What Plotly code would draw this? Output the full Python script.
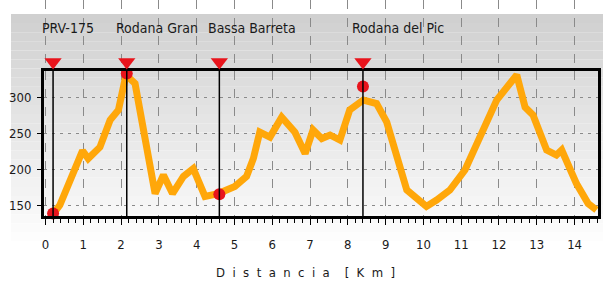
import plotly.graph_objects as go

# Elevation profile (km, m)
distance_km = [0.21, 0.38, 0.98, 1.13, 1.44, 1.71, 1.93, 2.13, 2.37, 2.90, 3.12, 3.36,
               3.65, 3.91, 4.22, 4.57, 5.01, 5.32, 5.50, 5.67, 5.94, 6.25, 6.60, 6.87,
               7.08, 7.31, 7.53, 7.79, 8.05, 8.41, 8.76, 9.03, 9.56, 9.82, 10.08, 10.35,
               10.70, 11.10, 11.53, 11.94, 12.47, 12.69, 12.90, 13.26, 13.52, 13.66,
               14.05, 14.36, 14.58]
elevation_m = [138, 150, 226, 215, 231, 269, 283, 332, 320, 166, 192, 166,
               190, 201, 162, 166, 176, 190, 215, 252, 245, 273, 252, 222,
               255, 243, 248, 241, 283, 297, 292, 266, 171, 159, 148, 157,
               171, 199, 250, 297, 332, 287, 276, 227, 220, 227,
               180, 152, 143]

# Waypoints
waypoint_names = ["PRV-175", "Rodana Gran", "Bassa Barreta", "Rodana del Pic"]
waypoint_km = [0.2, 2.15, 4.6, 8.4]
waypoint_elev = [138, 334, 165, 316]

x_ticks = list(range(0, 15))
y_ticks = [150, 200, 250, 300]

X_RANGE = [-0.04, 14.62]
Y_RANGE = [134.6, 337.6]

FONT = "DejaVu Sans Condensed, Liberation Sans Narrow, Arial Narrow, sans-serif"

H_IN = 216.0            # drawable height (px) above bottom margin
PLOT_TOP = 145.0 / H_IN  # plot domain top (paper)


def py(px):
    """pixel row -> paper y"""
    return (H_IN - px) / H_IN


fig = go.Figure()

# vertical waypoint lines
for k in waypoint_km:
    fig.add_shape(type="line", xref="x", yref="paper", x0=k, x1=k, y0=0, y1=PLOT_TOP,
                  line=dict(color="black", width=1.5), layer="above")

fig.add_trace(go.Scatter(x=distance_km, y=elevation_m, mode="lines",
                         line=dict(color="#FFA70A", width=7), hoverinfo="skip"))

fig.add_trace(go.Scatter(x=waypoint_km, y=waypoint_elev, mode="markers",
                         marker=dict(symbol="circle", size=12, color="#E8141C",
                                     line=dict(width=0)), cliponaxis=False,
                         hoverinfo="skip"))

# triangles in the header band (yaxis2)
tri_y = (py(62) - PLOT_TOP) / (1 - PLOT_TOP)
fig.add_trace(go.Scatter(x=waypoint_km, y=[tri_y] * len(waypoint_km), mode="markers",
                         yaxis="y2",
                         marker=dict(symbol="triangle-down", size=15, color="#E8141C",
                                     line=dict(width=0)), cliponaxis=False,
                         hoverinfo="skip"))

for name, k in zip(waypoint_names, waypoint_km):
    fig.add_annotation(x=k, y=py(28), xref="x", yref="paper", text=name, showarrow=False,
                       xanchor="left", yanchor="middle", xshift=-13,
                       font=dict(family=FONT, size=14, color="#1a1a1a"))

sp = "\u00a0\u00a0"
title = sp.join("Distancia") + "\u00a0\u00a0\u00a0\u00a0" + sp.join("[Km]")
fig.add_annotation(x=(305 - 44) / 554.0, y=py(272), xref="paper", yref="paper", text=title,
                   showarrow=False, xanchor="center", yanchor="middle",
                   font=dict(family=FONT, size=13, color="#1a1a1a"))

# gradient background (paper)
n = 30
top_px, bot_px = 14, 287
for i in range(n):
    p0 = top_px + (bot_px - top_px) * i / n
    p1 = top_px + (bot_px - top_px) * (i + 1) / n
    t = i / (n - 1)
    g = int(round(208 + (255 - 208) * min(1.0, t * 1.15)))
    fig.add_shape(type="rect", xref="paper", yref="paper",
                  x0=(11 - 44) / 554.0, x1=(603 - 44) / 554.0,
                  y0=py(p1), y1=py(p0),
                  fillcolor=f"rgb({g},{g},{g})", line=dict(width=0), layer="below")

fig.update_layout(
    width=609, height=287,
    margin=dict(l=44, r=11, t=0, b=71, autoexpand=False),
    paper_bgcolor="white",
    plot_bgcolor="rgba(255,255,255,0.88)",
    showlegend=False,
    xaxis=dict(range=X_RANGE, tickvals=x_ticks, ticktext=[str(v) for v in x_ticks],
               showgrid=True, gridcolor="#8a8a8a", gridwidth=1, griddash="dash",
               zeroline=False, showline=True, linecolor="black", linewidth=3, mirror=True,
               ticks="outside", ticklen=6, tickcolor="black", tickwidth=1,
               minor=dict(dtick=0.2, tick0=0, ticks="outside", ticklen=4, tickcolor="black",
                          showgrid=False),
               ticklabelstandoff=8, automargin=False, fixedrange=True,
               tickfont=dict(family=FONT, size=13, color="#1a1a1a")),
    yaxis=dict(range=Y_RANGE, domain=[0, PLOT_TOP], tickvals=y_ticks,
               ticktext=[str(v) for v in y_ticks],
               showgrid=True, gridcolor="#8a8a8a", gridwidth=1, griddash="3px,5px",
               zeroline=False, showline=True, linecolor="black", linewidth=3, mirror=True,
               ticks="outside", ticklen=4, tickcolor="black", tickwidth=1,
               ticklabelstandoff=3, automargin=False, fixedrange=True,
               tickfont=dict(family=FONT, size=13, color="#1a1a1a")),
    yaxis2=dict(domain=[PLOT_TOP, 1], range=[0, 1], visible=False, fixedrange=True),
)

fig.write_html("out.html", config={"displayModeBar": False},
               post_script="document.body.style.margin='0px';")
